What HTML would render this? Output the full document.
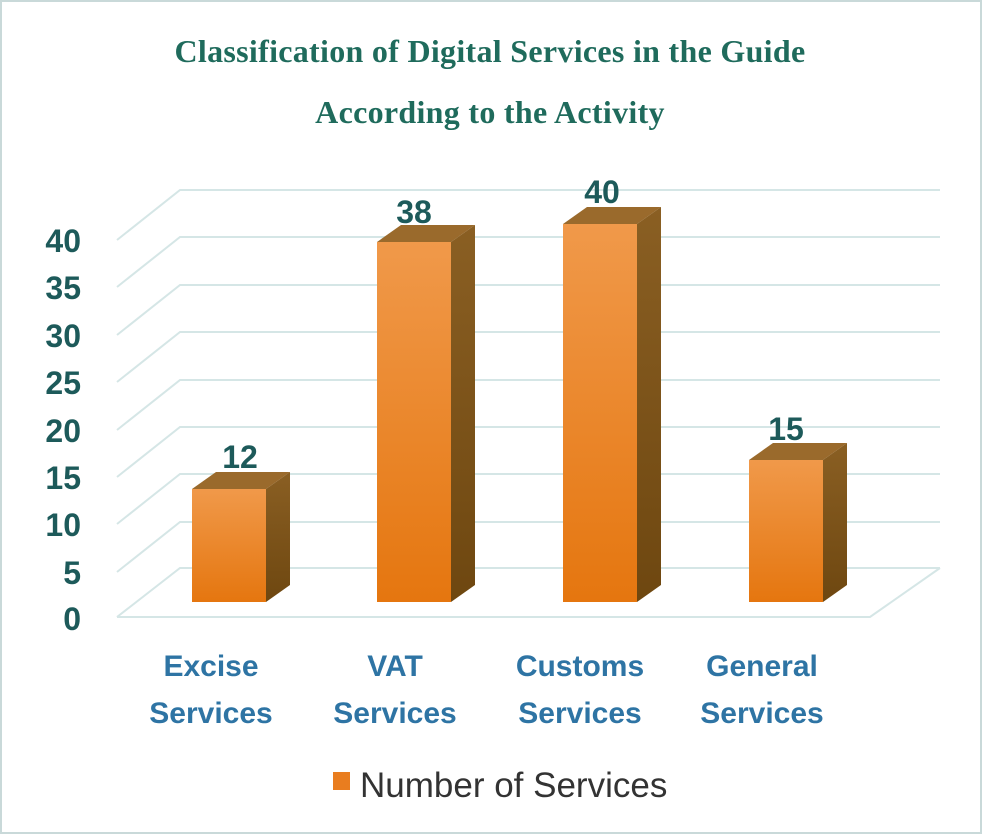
<!DOCTYPE html>
<html><head><meta charset="utf-8"><style>
body{margin:0;background:#fff}
svg{display:block}
</style></head><body>
<svg width="982" height="834" viewBox="0 0 982 834" xmlns="http://www.w3.org/2000/svg">
<defs>
<linearGradient id="fr" x1="0" y1="0" x2="0" y2="1">
<stop offset="0" stop-color="#f0994a"/><stop offset="1" stop-color="#e5760f"/></linearGradient>
<linearGradient id="sd" x1="0" y1="0" x2="0" y2="1">
<stop offset="0" stop-color="#8a5f23"/><stop offset="1" stop-color="#6e4710"/></linearGradient>
</defs>
<rect x="1" y="1" width="980" height="832" fill="#fff" stroke="#c9d9d9" stroke-width="2"/>
<g font-family="'Liberation Serif',serif" font-weight="bold" fill="#1f6b5c" font-size="32" text-anchor="middle">
<text x="490" y="62" letter-spacing="0.3">Classification of Digital Services in the Guide</text>
<text x="490" y="123" letter-spacing="0.3">According to the Activity</text>
</g>
<g stroke="#d5e6e6" stroke-width="2" fill="none">
<path d="M117 240L180 190H940M117 287L180 237H940M117 335L180 285H940M117 382L180 332H940M117 430L180 380H940M117 477L180 427H940M117 524L180 474H940M117 572L180 522H940M117 617L180 568H940M117 617H870L940 568"/>
</g>
<g font-family="'Liberation Sans',sans-serif" font-weight="bold" font-size="32" fill="#1d5a5a" text-anchor="end">
<text x="81" y="252">40</text><text x="81" y="299">35</text><text x="81" y="347">30</text><text x="81" y="394">25</text><text x="81" y="442">20</text><text x="81" y="489">15</text><text x="81" y="536">10</text><text x="81" y="584">5</text><text x="81" y="630">0</text>
</g>
<g>
<polygon points="192,489 216,472 290,472 266,489" fill="#9a6a2c"/><polygon points="266,489 290,472 290,585 266,602" fill="url(#sd)"/><rect x="192" y="489" width="74" height="113" fill="url(#fr)"/>
<polygon points="377,242 401,225 475,225 451,242" fill="#9a6a2c"/><polygon points="451,242 475,225 475,585 451,602" fill="url(#sd)"/><rect x="377" y="242" width="74" height="360" fill="url(#fr)"/>
<polygon points="563,224 587,207 661,207 637,224" fill="#9a6a2c"/><polygon points="637,224 661,207 661,585 637,602" fill="url(#sd)"/><rect x="563" y="224" width="74" height="378" fill="url(#fr)"/>
<polygon points="749,460 773,443 847,443 823,460" fill="#9a6a2c"/><polygon points="823,460 847,443 847,585 823,602" fill="url(#sd)"/><rect x="749" y="460" width="74" height="142" fill="url(#fr)"/>
</g>
<g font-family="'Liberation Sans',sans-serif" font-weight="bold" font-size="32" fill="#1d5a5a" text-anchor="middle">
<text x="240" y="468">12</text><text x="414" y="223">38</text><text x="602" y="203">40</text><text x="786" y="440">15</text>
</g>
<g font-family="'Liberation Sans',sans-serif" font-weight="bold" font-size="30" fill="#2e74a4" text-anchor="middle">
<text x="211" y="676">Excise</text><text x="211" y="723">Services</text>
<text x="395" y="676">VAT</text><text x="395" y="723">Services</text>
<text x="580" y="676">Customs</text><text x="580" y="723">Services</text>
<text x="762" y="676">General</text><text x="762" y="723">Services</text>
</g>
<rect x="333" y="772" width="17" height="18" fill="#e97d1f"/>
<text x="360" y="797" font-family="'Liberation Sans',sans-serif" font-size="35" fill="#333">Number of Services</text>
</svg>
</body></html>
